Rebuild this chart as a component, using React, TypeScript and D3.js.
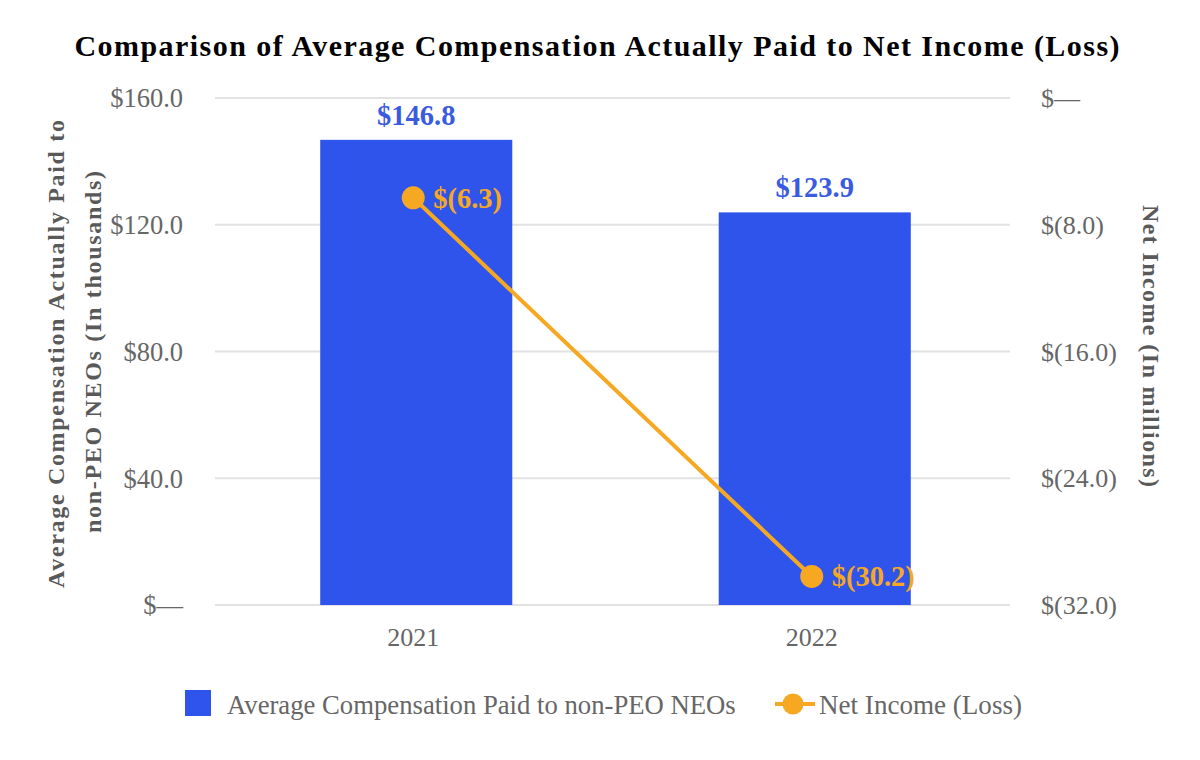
import React from "react";
import * as d3 from "d3";

const years = ["2021", "2022"];
const compensation = [146.8, 123.9];
const netIncome = [-6.3, -30.2];
const leftTicks = [0, 40, 80, 120, 160];
const rightTicks = [0, -8, -16, -24, -32];

const W = 1200;
const H = 760;
const BLUE = "#2F54EB";
const ORANGE = "#F7A823";
const GRAY = "#666666";
const SERIF = "'Liberation Serif', 'Times New Roman', serif";

const fmtLeft = (v: number) => (v === 0 ? "$\u2014" : `$${v.toFixed(1)}`);
const fmtRight = (v: number) =>
  v === 0 ? "$\u2014" : v < 0 ? `$(${Math.abs(v).toFixed(1)})` : `$${v.toFixed(1)}`;

export default function App() {
  const x = d3.scaleBand<string>().domain(years).range([218, 1013]).paddingInner(0.518).paddingOuter(0.2565);
  const yL = d3.scaleLinear().domain([0, 160]).range([605, 98]);
  const yR = d3.scaleLinear().domain([-32, 0]).range([605, 98]);
  const cx = (d: string) => (x(d) as number) + x.bandwidth() / 2;
  const px = (i: number) => cx(years[i]) - 3;
  const line = d3
    .line<number>()
    .x((_, i) => px(i))
    .y((v) => yR(v));

  return (
    <svg width={W} height={H} style={{ position: "absolute", left: 0, top: 0, background: "#fff" }} fontFamily={SERIF}>
      <rect x={0} y={0} width={W} height={H} fill="#fff" />
      <text x={597} y={56} textAnchor="middle" fontSize={30} fontWeight="bold" fill="#000" textLength={1045} lengthAdjust="spacing">
        Comparison of Average Compensation Actually Paid to Net Income (Loss)
      </text>

      {leftTicks.map((t) => (
        <line key={"g" + t} x1={215} x2={1010} y1={yL(t)} y2={yL(t)} stroke="#e2e2e2" strokeWidth={2} />
      ))}
      {leftTicks.map((t) => (
        <text key={"l" + t} x={183} y={yL(t)} dy="0.35em" textAnchor="end" fontSize={26.5} fill={GRAY}>
          {fmtLeft(t)}
        </text>
      ))}
      {rightTicks.map((t) => (
        <text key={"r" + t} x={1041} y={yR(t)} dy="0.35em" textAnchor="start" fontSize={26} fill={GRAY}>
          {fmtRight(t)}
        </text>
      ))}

      <g transform="translate(56,354) rotate(-90)">
        <text x={0} y={0} dy="0.35em" textAnchor="middle" fontSize={24} fontWeight="bold" fill="#595959" textLength={468} lengthAdjust="spacing">
          Average Compensation Actually Paid to
        </text>
      </g>
      <g transform="translate(93,352) rotate(-90)">
        <text x={0} y={0} dy="0.35em" textAnchor="middle" fontSize={24} fontWeight="bold" fill="#595959" textLength={362} lengthAdjust="spacing">
          non-PEO NEOs (In thousands)
        </text>
      </g>
      <g transform="translate(1151,346) rotate(90)">
        <text x={0} y={0} dy="0.35em" textAnchor="middle" fontSize={24} fontWeight="bold" fill="#595959" textLength={282} lengthAdjust="spacing">
          Net Income (In millions)
        </text>
      </g>

      {years.map((yr, i) => (
        <rect key={"b" + yr} x={x(yr)} y={yL(compensation[i])} width={x.bandwidth()} height={yL(0) - yL(compensation[i])} fill={BLUE} />
      ))}
      {years.map((yr, i) => (
        <text key={"bl" + yr} x={cx(yr)} y={yL(compensation[i]) - 15} textAnchor="middle" fontSize={28.5} fontWeight="bold" fill="#3A5BE0">
          {fmtLeft(compensation[i])}
        </text>
      ))}
      {years.map((yr, i) => (
        <text key={"x" + yr} x={px(i)} y={646} textAnchor="middle" fontSize={26} fill={GRAY}>
          {yr}
        </text>
      ))}

      <path d={line(netIncome) || ""} fill="none" stroke={ORANGE} strokeWidth={4} />
      {years.map((yr, i) => (
        <circle key={"c" + yr} cx={px(i)} cy={yR(netIncome[i])} r={11.5} fill={ORANGE} />
      ))}
      {years.map((yr, i) => (
        <text key={"nl" + yr} x={px(i) + 20} y={yR(netIncome[i])} dy="0.35em" textAnchor="start" fontSize={28.5} fontWeight="bold" fill={ORANGE}>
          {fmtRight(netIncome[i])}
        </text>
      ))}

      <rect x={185} y={690} width={26} height={26} fill={BLUE} />
      <text x={227} y={705} dy="0.35em" fontSize={26.7} fill={GRAY}>
        Average Compensation Paid to non-PEO NEOs
      </text>
      <line x1={775} x2={815} y1={704} y2={704} stroke={ORANGE} strokeWidth={4} />
      <circle cx={793} cy={704} r={10.5} fill={ORANGE} />
      <text x={819} y={705} dy="0.35em" fontSize={26.5} fill={GRAY} textLength={203} lengthAdjust="spacingAndGlyphs">
        Net Income (Loss)
      </text>
    </svg>
  );
}
